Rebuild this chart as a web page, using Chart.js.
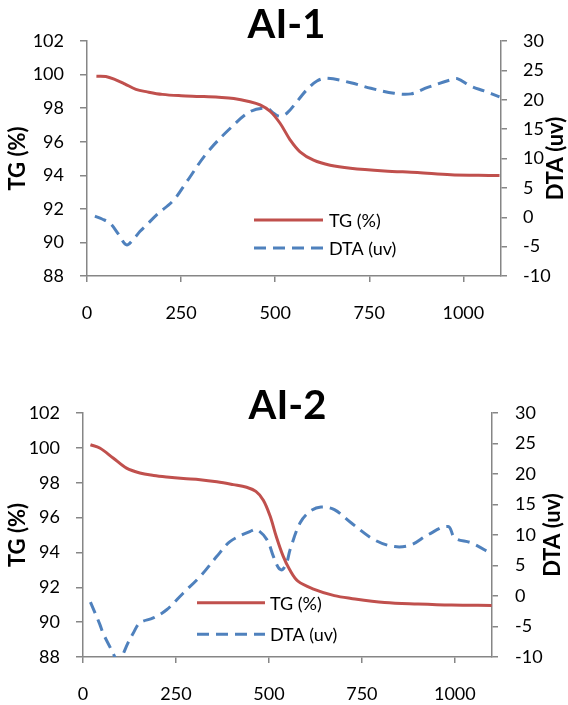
<!DOCTYPE html>
<html><head><meta charset="utf-8">
<script src="https://cdn.jsdelivr.net/npm/chart.js@4.4.0/dist/chart.umd.min.js"></script>
<style>
html,body{margin:0;padding:0;background:#fff;overflow:hidden;}
canvas{display:block;}
</style></head><body>
<canvas id="c1" width="568" height="352"></canvas>
<canvas id="c2" width="568" height="353"></canvas>
<script>
// ---- data ----
const chartTitles = ['AI-1', 'AI-2'];
const seriesNames = ['TG (%)', 'DTA (uv)'];
const axisTitles = ['TG (%)', 'DTA (uv)'];
const xTicks = [0, 250, 500, 750, 1000];
const tgTicks = [88, 90, 92, 94, 96, 98, 100, 102];
const dtaTicks = [-10, -5, 0, 5, 10, 15, 20, 25, 30];

const tg1T = [25, 50, 75, 100, 130, 160, 200, 250, 300, 350, 390, 430, 460, 487, 513, 540, 566, 602, 646, 700, 790, 878, 967, 1040, 1096];
const tg1V = [99.9, 99.88, 99.7, 99.45, 99.12, 98.97, 98.82, 98.74, 98.7, 98.65, 98.58, 98.4, 98.19, 97.8, 97.1, 96.1, 95.4, 94.9, 94.6, 94.42, 94.26, 94.16, 94.03, 94.0, 93.98];
const dta1T = [21, 40, 61, 85, 105, 125, 141, 160, 185, 230, 265, 318, 380, 434, 478, 496, 512, 531, 558, 584, 611, 638, 701, 754, 816, 861, 905, 967, 984, 1020, 1055, 1096];
const dta1V = [0.2, -0.3, -1.0, -3.0, -4.7, -3.6, -2.4, -1.2, 0.4, 2.9, 6.05, 10.9, 15.1, 18.0, 18.55, 17.7, 17.2, 17.7, 19.7, 21.7, 23.2, 23.65, 22.9, 21.95, 21.1, 21.0, 22.1, 23.4, 23.6, 22.3, 21.5, 20.5];

const tg2T = [20, 45, 81, 117, 153, 190, 225, 270, 315, 360, 404, 440, 465, 485, 503, 520, 538, 556, 578, 620, 676, 721, 811, 901, 991, 1099];
const tg2V = [100.18, 99.99, 99.42, 98.84, 98.56, 98.42, 98.33, 98.24, 98.17, 98.05, 97.89, 97.74, 97.5, 97.0, 96.1, 94.9, 93.8, 93.0, 92.35, 91.9, 91.52, 91.36, 91.13, 91.04, 90.98, 90.96];
const dta2T = [20, 45, 54, 72, 85, 95, 104, 121, 135, 153, 189, 225, 270, 315, 360, 396, 450, 468, 495, 512, 526, 536, 548, 557, 584, 611, 640, 676, 721, 784, 838, 883, 928, 982, 1000, 1045, 1099];
const dta2V = [-1.0, -4.6, -6.1, -8.3, -9.9, -10.7, -10.0, -7.7, -6.1, -4.4, -3.6, -2.25, 0.5, 3.2, 6.5, 8.95, 10.6, 10.87, 9.2, 6.5, 4.6, 4.3, 5.5, 7.6, 12.0, 13.9, 14.6, 14.15, 12.0, 9.2, 8.1, 8.4, 10.05, 11.4, 9.5, 8.7, 6.9];

// ---- styling ----
const RED = '#C0504D', BLUE = '#4F81BD', AXIS = '#868686';
const FONT = 'Lato, "Open Sans", sans-serif';

const decor = {
  id: 'decor',
  afterDraw(chart, args, o) {
    const ctx = chart.ctx, a = chart.chartArea;
    ctx.save();
    ctx.fillStyle = '#000';
    ctx.font = 'bold 40px ' + FONT;
    ctx.textAlign = 'center';
    ctx.textBaseline = 'alphabetic';
    ctx.fillText(o.title, o.titleX, o.titleY);
    ctx.font = 'bold 22px ' + FONT;
    ctx.textBaseline = 'middle';
    const cy = (a.top + a.bottom) / 2;
    [[o.leftTitleX, axisTitles[0]], [o.rightTitleX, axisTitles[1]]].forEach(([x, t]) => {
      ctx.save(); ctx.translate(x, cy); ctx.rotate(-Math.PI / 2); ctx.fillText(t, 0, 0); ctx.restore();
    });
    ctx.font = '18px ' + FONT;
    ctx.textAlign = 'left';
    chart.data.datasets.forEach((ds, i) => {
      const y = o.legendY[i];
      ctx.save();
      ctx.strokeStyle = ds.borderColor; ctx.lineWidth = ds.borderWidth;
      ctx.setLineDash(ds.borderDash || []);
      ctx.beginPath(); ctx.moveTo(o.legendX0, y); ctx.lineTo(o.legendX1, y); ctx.stroke();
      ctx.restore();
      ctx.fillText(ds.label, o.legendTextX, y + 1);
    });
    ctx.restore();
  }
};

function pts(T, V) { return T.map((t, i) => ({x: t, y: V[i]})); }

function axisCommon(ticks, tickLen, pad) {
  return {
    afterBuildTicks: s => { s.ticks = ticks.map(v => ({value: v})); },
    grid: {drawOnChartArea: false, drawTicks: true, tickLength: tickLen, color: AXIS, lineWidth: 1.5},
    border: {display: true, color: AXIS, width: 1.5},
    ticks: {padding: pad, color: '#000', font: {family: FONT, size: 18}, autoSkip: false, maxRotation: 0,
            callback: v => String(v)}
  };
}

function makeChart(id, c) {
  return new Chart(document.getElementById(id), {
    type: 'line',
    data: {
      datasets: [
        {label: seriesNames[0], data: pts(c.tgT, c.tgV), yAxisID: 'y', borderColor: RED, borderWidth: 3, pointRadius: 0, tension: 0.35, fill: false},
        {label: seriesNames[1], data: pts(c.dtaT, c.dtaV), yAxisID: 'y1', borderColor: BLUE, borderWidth: 3, borderDash: [12, 7], pointRadius: 0, tension: 0.35, fill: false}
      ]
    },
    options: {
      responsive: false,
      animation: false,
      layout: {padding: {top: c.padTop, bottom: c.padBottom, left: 0, right: 0}},
      plugins: {legend: {display: false}, tooltip: {enabled: false}, decor: c.decor},
      scales: {
        x: Object.assign(axisCommon(xTicks, 6, c.xpad), {type: 'linear', min: 0, max: 1100, afterFit: s => { s.height = c.xh; }}),
        y: Object.assign(axisCommon(tgTicks, 7, 16), {position: 'left', min: 88, max: 102, afterFit: s => { s.width = c.lw; }}),
        y1: Object.assign(axisCommon(dtaTicks, 6, c.rpad), {position: 'right', min: -10, max: 30, afterFit: s => { s.width = c.rw; }})
      }
    },
    plugins: [decor]
  });
}

function build() {
  makeChart('c1', {
    tgT: tg1T, tgV: tg1V, dtaT: dta1T, dtaV: dta1V,
    lw: 87, rw: 67, padTop: 41, padBottom: 26, xh: 50, rpad: 16, xpad: 20,
    decor: {title: chartTitles[0], titleX: 286.5, titleY: 38, leftTitleX: 18, rightTitleX: 556,
            legendX0: 254, legendX1: 323, legendTextX: 329, legendY: [220, 248]}
  });
  makeChart('c2', {
    tgT: tg2T, tgV: tg2V, dtaT: dta2T, dtaV: dta2V,
    lw: 83, rw: 76, padTop: 61, padBottom: 0, xh: 48, rpad: 17, xpad: 20,
    decor: {title: chartTitles[1], titleX: 287.5, titleY: 67, leftTitleX: 18, rightTitleX: 553,
            legendX0: 197, legendX1: 265, legendTextX: 270, legendY: [250.7, 282.3]}
  });
}

if (document.fonts && document.fonts.load) {
  Promise.all([document.fonts.load('18px Lato'), document.fonts.load('bold 22px Lato')]).then(build, build);
} else { build(); }
</script>
</body></html>
